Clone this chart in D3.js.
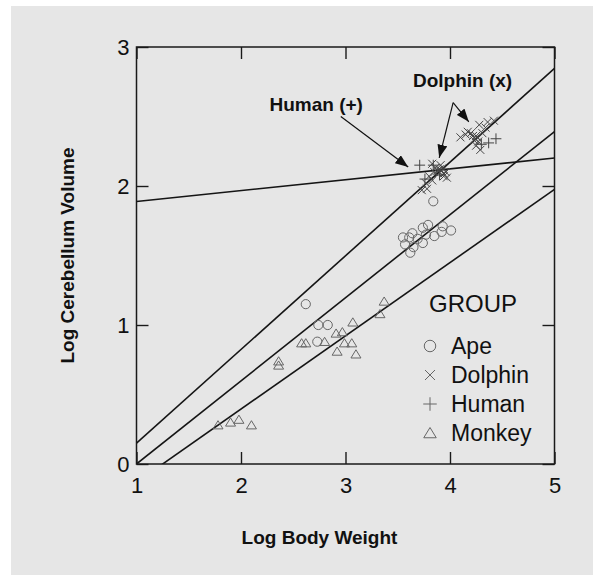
<!DOCTYPE html>
<html>
<head>
<meta charset="utf-8">
<script src="https://cdn.jsdelivr.net/npm/d3@7"></script>
<style>
  body { margin: 0; background: #fff; }
  text { font-family: Arial, "Liberation Sans", sans-serif; fill: #111; }
</style>
</head>
<body>
<svg id="chart" width="593" height="575"></svg>
<script>
// tick values
const xTicks = [1, 2, 3, 4, 5]
const yTicks = [0, 1, 2, 3]

// points: [log body weight, log cerebellum volume]
const apes = [
  [3.84, 1.89],
  [3.55, 1.63], [3.64, 1.66], [3.79, 1.72], [3.74, 1.70], [3.93, 1.71], [4.01, 1.68],
  [3.92, 1.67], [3.74, 1.59], [3.61, 1.63], [3.57, 1.58], [3.62, 1.52], [3.85, 1.64],
  [3.77, 1.65], [3.65, 1.56], [3.69, 1.62],
  [2.62, 1.15], [2.74, 1.00], [2.83, 1.00], [2.73, 0.88]
]
const dolphins = [
  [3.83, 2.16], [3.86, 2.13], [3.93, 2.13], [3.94, 2.07], [3.97, 2.06], [3.80, 2.07],
  [3.83, 2.04], [3.77, 2.02], [3.78, 1.98], [3.73, 1.97], [3.89, 2.09], [3.85, 2.10],
  [3.91, 2.15], [3.88, 2.11], [3.96, 2.10], [3.92, 2.11], [3.90, 2.12], [3.94, 2.09],
  [4.17, 2.39], [4.28, 2.44], [4.36, 2.46], [4.42, 2.47], [4.10, 2.35], [4.23, 2.33],
  [4.25, 2.29], [4.29, 2.26], [4.31, 2.38], [4.20, 2.38], [4.26, 2.35], [4.22, 2.36],
  [4.15, 2.37], [4.34, 2.42], [4.24, 2.34], [4.27, 2.32], [4.25, 2.36]
]
const humans = [
  [3.71, 2.15], [3.84, 2.15], [3.90, 2.08], [3.76, 2.05],
  [4.37, 2.31], [4.44, 2.34], [4.30, 2.30]
]
const monkeys = [
  [3.37, 1.17], [3.33, 1.08], [3.07, 1.02], [2.91, 0.94], [2.97, 0.95], [2.58, 0.87],
  [2.62, 0.87], [2.80, 0.88], [2.99, 0.87], [3.06, 0.87], [2.92, 0.81], [3.10, 0.79],
  [2.36, 0.74], [2.36, 0.71], [1.90, 0.30], [1.98, 0.32], [2.10, 0.28], [1.78, 0.28]
]

// fitted lines: y = a + b * (x - 1)
const fitLines = [
  {a: 0.15, b: 0.674},
  {a: 0.00, b: 0.598},
  {a: -0.132, b: 0.527},
  {a: 1.889, b: 0.078}
]

// annotation arrows, data coordinates
const arrows = [
  {from: [2.955, 2.50], to: [3.60, 2.137]},
  {from: [4.03, 2.60], to: [3.897, 2.203]},
  {from: [4.03, 2.60], to: [4.18, 2.462]}
]
const labels = [
  {text: 'Human (+)', at: [2.72, 2.54]},
  {text: 'Dolphin (x)', at: [4.12, 2.71]}
]

const groups = [
  {name: 'Ape', data: apes, shape: 'circle'},
  {name: 'Dolphin', data: dolphins, shape: 'times'},
  {name: 'Human', data: humans, shape: 'plus'},
  {name: 'Monkey', data: monkeys, shape: 'triangle'}
]

const svg = d3.select('#chart')
const x = d3.scaleLinear().domain([1, 5]).range([136.5, 554.5])
const y = d3.scaleLinear().domain([0, 3]).range([464, 47])

// grey panel
svg.append('rect')
  .attr('x', 11).attr('y', 6)
  .attr('width', 593 - 11).attr('height', 575 - 6)
  .attr('fill', '#e6e6e6')

function shapePath(shape, s) {
  if (shape == 'times')
    return `M${-s},${-s}L${s},${s}M${-s},${s}L${s},${-s}`
  if (shape == 'plus') {
    let p = s * 1.35
    return `M${-p},0L${p},0M0,${-p}L0,${p}`
  }
  if (shape == 'triangle') {
    let w = s * 1.25
    return `M0,${-s * 1.1}L${w},${s * 0.95}L${-w},${s * 0.95}Z`
  }
  return d3.arc()({innerRadius: 0, outerRadius: s * 1.15, startAngle: 0, endAngle: 2 * Math.PI})
}

svg.append('clipPath').attr('id', 'plotclip')
  .append('rect')
  .attr('x', x(1)).attr('y', y(3))
  .attr('width', x(5) - x(1)).attr('height', y(0) - y(3))

// fitted lines
svg.append('g')
  .attr('clip-path', 'url(#plotclip)')
  .selectAll('line')
  .data(fitLines)
  .join('line')
  .attr('x1', x(1)).attr('y1', d => y(d.a))
  .attr('x2', x(5)).attr('y2', d => y(d.a + d.b * 4))
  .attr('stroke', '#151515')
  .attr('stroke-width', 1.6)

// points
groups.forEach(g => {
  svg.append('g')
    .selectAll('path')
    .data(g.data)
    .join('path')
    .attr('transform', d => `translate(${x(d[0])},${y(d[1])})`)
    .attr('d', shapePath(g.shape, 4))
    .attr('fill', 'none')
    .attr('stroke', g.shape == 'times' || g.shape == 'plus' ? '#444' : '#666')
    .attr('stroke-width', 1)
})

// axes with inward ticks
const bottom = svg.append('g')
  .attr('transform', `translate(0,${y(0)})`)
  .call(d3.axisBottom(x).tickValues(xTicks).tickSize(-12).tickFormat(d3.format('d')))
bottom.selectAll('text').attr('dy', null).attr('y', 29).style('font-size', '22px')

const left = svg.append('g')
  .attr('transform', `translate(${x(1)},0)`)
  .call(d3.axisLeft(y).tickValues(yTicks).tickSize(-12).tickFormat(d3.format('d')))
left.selectAll('text').attr('x', -7).attr('dy', '0.36em').style('font-size', '22px')

svg.append('g')
  .attr('transform', `translate(0,${y(3)})`)
  .call(d3.axisTop(x).tickValues(xTicks).tickSize(-12).tickFormat(''))
svg.append('g')
  .attr('transform', `translate(${x(5)},0)`)
  .call(d3.axisRight(y).tickValues(yTicks).tickSize(-12).tickFormat(''))

svg.selectAll('.domain').remove()
svg.selectAll('.tick line').attr('stroke', '#1a1a1a').attr('stroke-width', 1.4)
svg.selectAll('.tick text').attr('fill', '#111')

// frame
svg.append('rect')
  .attr('x', x(1)).attr('y', y(3))
  .attr('width', x(5) - x(1)).attr('height', y(0) - y(3))
  .attr('fill', 'none')
  .attr('stroke', '#1a1a1a')
  .attr('stroke-width', 1.5)

// axis titles
svg.append('text')
  .attr('x', (x(1) + x(5)) / 2 - 26).attr('y', 544)
  .attr('text-anchor', 'middle')
  .style('font-size', '19px').style('font-weight', 'bold')
  .text('Log Body Weight')
svg.append('text')
  .attr('transform', `translate(74,${(y(0) + y(3)) / 2}) rotate(-90)`)
  .attr('text-anchor', 'middle')
  .style('font-size', '19px').style('font-weight', 'bold')
  .text('Log Cerebellum Volume')

// annotation arrows
svg.append('defs').append('marker')
  .attr('id', 'head')
  .attr('markerUnits', 'userSpaceOnUse')
  .attr('markerWidth', 14).attr('markerHeight', 10)
  .attr('refX', 13).attr('refY', 5)
  .attr('orient', 'auto')
  .append('path')
  .attr('d', 'M0,0L13,5L0,10Z')
  .attr('fill', '#111')

svg.append('g')
  .selectAll('line')
  .data(arrows)
  .join('line')
  .attr('x1', d => x(d.from[0])).attr('y1', d => y(d.from[1]))
  .attr('x2', d => x(d.to[0])).attr('y2', d => y(d.to[1]))
  .attr('stroke', '#111')
  .attr('stroke-width', 1.2)
  .attr('marker-end', 'url(#head)')

svg.append('g')
  .selectAll('text')
  .data(labels)
  .join('text')
  .attr('x', d => x(d.at[0])).attr('y', d => y(d.at[1]))
  .attr('text-anchor', 'middle')
  .style('font-size', '19px').style('font-weight', 'bold')
  .text(d => d.text)

// legend
const legend = svg.append('g').attr('transform', 'translate(429,312)')
legend.append('text')
  .attr('x', 0).attr('y', 0)
  .style('font-size', '24px')
  .text('GROUP')
const items = legend.selectAll('g.item')
  .data(groups)
  .join('g')
  .attr('class', 'item')
  .attr('transform', (d, i) => `translate(0,${42 + i * 29})`)
items.append('path')
  .attr('transform', 'translate(1,-8)')
  .attr('d', d => shapePath(d.shape, 5))
  .attr('fill', 'none')
  .attr('stroke', '#666')
  .attr('stroke-width', 1)
items.append('text')
  .attr('x', 22).attr('y', 0)
  .style('font-size', '23px')
  .text(d => d.name)
</script>
</body>
</html>
